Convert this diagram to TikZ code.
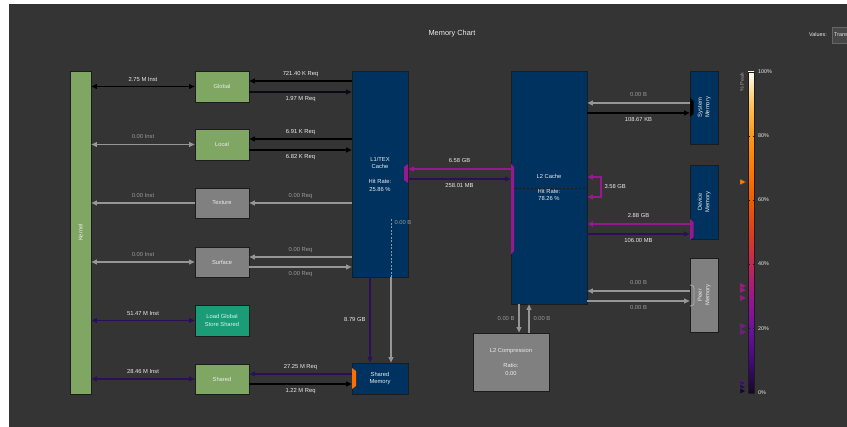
\documentclass[tikz,border=0pt]{standalone}
\usepackage{fontspec}
\setmainfont{Liberation Sans}
\usetikzlibrary{arrows.meta,calc}
\definecolor{bg}{RGB}{52,52,52}
\definecolor{kgreen}{RGB}{127,166,98}
\definecolor{navy}{RGB}{0,50,95}
\definecolor{gbox}{RGB}{128,128,128}
\definecolor{teal}{RGB}{26,156,118}
\definecolor{mag}{RGB}{150,25,145}
\definecolor{dpur}{RGB}{45,15,88}
\definecolor{nblk}{RGB}{12,8,22}
\definecolor{gline}{RGB}{150,150,150}
\definecolor{gtxt}{RGB}{155,155,155}
\definecolor{txt}{RGB}{236,236,236}
\definecolor{boxline}{RGB}{28,28,28}
\definecolor{orng}{RGB}{255,110,0}
\definecolor{cb0}{RGB}{22,6,42}
\definecolor{cb1}{RGB}{65,10,120}
\definecolor{cb2}{RGB}{110,16,160}
\definecolor{cb3}{RGB}{158,22,140}
\definecolor{cb4}{RGB}{195,38,85}
\definecolor{cb5}{RGB}{222,62,30}
\definecolor{cb6}{RGB}{240,92,0}
\definecolor{cb7}{RGB}{255,122,0}
\definecolor{cb8}{RGB}{255,152,20}
\definecolor{cb9}{RGB}{255,195,90}
\definecolor{cb10}{RGB}{255,252,242}
\newcommand\labfont{\fontsize{5.8}{7.5}\selectfont}
\newcommand\smfont{\fontsize{5.4}{7}\selectfont}
\tikzset{
  box/.style={draw=boxline, line width=0.8pt, inner sep=0pt, text=txt, font=\labfont, align=center},
  lab/.style={text=txt, font=\labfont, inner sep=0pt},
  glab/.style={text=gtxt, font=\labfont, inner sep=0pt},
  tip/.style={-{Triangle[length=5.5pt,width=5pt]}},
  dtip/.style={{Triangle[length=5.5pt,width=5pt]}-{Triangle[length=5.5pt,width=5pt]}},
  con/.style={line width=1.1pt, tip},
  dcon/.style={line width=1.1pt, dtip},
}
\begin{document}
\begin{tikzpicture}[x=1pt,y=-1pt]
\useasboundingbox (0,0) rectangle (847,427);
\fill[white] (0,0) rectangle (847,427);
\fill[bg] (9,4) rectangle (847,427);

% header
\node[lab, font=\fontsize{7.4}{9}\selectfont] (title) at (452,34) {Memory Chart};
\node[lab, font=\smfont, anchor=east] (values) at (827,35) {Values:};
\node[draw=black!60, fill=black!72, minimum width=22, minimum height=16, anchor=west, inner sep=0pt, text=txt, font=\smfont, text width=18, align=left] (valbox) at (832,35) {Trans};

% boxes
\node[box, fill=kgreen, minimum width=21, minimum height=323] (kernel) at (80.5,232.5) {\rotatebox{90}{Kernel}};
\node[box, fill=kgreen, minimum width=54, minimum height=31] (global) at (222,86.5) {Global};
\node[box, fill=kgreen, minimum width=54, minimum height=31] (local) at (222,144.5) {Local};
\node[box, fill=gbox, minimum width=54, minimum height=30] (texture) at (222,203) {Texture};
\node[box, fill=gbox, minimum width=54, minimum height=30] (surface) at (222,262) {Surface};
\node[box, fill=teal, minimum width=54, minimum height=31] (lgss) at (222,320.5) {Load Global\\Store Shared};
\node[box, fill=kgreen, minimum width=54, minimum height=30] (shared) at (222,379) {Shared};
\node[box, fill=navy, minimum width=56, minimum height=206] (l1) at (380,174) {L1/TEX\\Cache\\[7.5pt]Hit Rate:\\25.86 \%};
\node[box, fill=navy, minimum width=56, minimum height=31] (shmem) at (380,378.5) {Shared\\Memory};
\node[box, fill=navy, minimum width=76, minimum height=233] (l2) at (549,187.5) {L2 Cache\\[7.5pt]Hit Rate:\\78.26 \%};
\node[box, fill=gbox, minimum width=76, minimum height=58] (l2c) at (511,362) {L2 Compression\\[7.5pt]Ratio:\\0.00};
\node[box, fill=navy, minimum width=28, minimum height=73] (sysmem) at (704,107.5) {\rotatebox{90}{\begin{tabular}{@{}c@{}}System\\Memory\end{tabular}}};
\node[box, fill=navy, minimum width=28, minimum height=74] (devmem) at (704,202) {\rotatebox{90}{\begin{tabular}{@{}c@{}}Device\\Memory\end{tabular}}};
\node[box, fill=gbox, minimum width=28, minimum height=74] (peer) at (704,295) {\rotatebox{90}{\begin{tabular}{@{}c@{}}Peer\\Memory\end{tabular}}};

% dashed line in L2
\draw[boxline, line width=0.8pt, dash pattern=on 2.5pt off 1.5pt] (l2.west |- 0,188) -- (l2.east |- 0,188);

% ports
\fill[mag] (408,164) -- (404,167) -- (404,180) -- (408,183) -- cycle;
\fill[mag] (511,164) -- (514,167) -- (514,251) -- (511,254) -- cycle;
\fill[black] (690,98) -- (693.5,101) -- (693.5,114) -- (690,117) -- cycle;
\fill[mag] (690,219) -- (693.5,222) -- (693.5,237) -- (690,240) -- cycle;
\fill[orng] (352,368) -- (356,371) -- (356,386) -- (352,389) -- cycle;
\draw[gline!80!white, line width=0.8pt] (690,285) .. controls (694,286) .. (694,289) -- (694,302) .. controls (694,305) .. (690,306);

% Kernel connectors
\draw[dcon, black] (kernel.east |- global.west) -- (global.west) node[lab, midway, yshift=7] (t1) {2.75 M Inst};
\draw[dcon, gline] (kernel.east |- local.west) -- (local.west) node[glab, midway, yshift=7.5] (t2) {0.00 Inst};
\draw[con, gline] (texture.west) -- (kernel.east |- texture.west) node[glab, midway, yshift=7] (t3) {0.00 Inst};
\draw[dcon, gline] (kernel.east |- surface.west) -- (surface.west) node[glab, midway, yshift=7] (t4) {0.00 Inst};
\draw[dcon, dpur] (kernel.east |- lgss.west) -- (lgss.west) node[lab, midway, yshift=7] (t5) {51.47 M Inst};
\draw[dcon, dpur] (kernel.east |- shared.west) -- (shared.west) node[lab, midway, yshift=7] (t6) {28.46 M Inst};

% L1 <-> units
\draw[con, black] (l1.west |- 0,81) -- (global.east |- 0,81) node[lab, midway, yshift=7] (t7) {721.40 K Req};
\draw[con, nblk] (global.east |- 0,92) -- (l1.west |- 0,92) node[lab, midway, yshift=-7] (t8) {1.97 M Req};
\draw[con, black] (l1.west |- 0,139) -- (local.east |- 0,139) node[lab, midway, yshift=7] (t9) {6.91 K Req};
\draw[con, black] (local.east |- 0,150) -- (l1.west |- 0,150) node[lab, midway, yshift=-7] (t10) {6.82 K Req};
\draw[con, gline] (l1.west |- texture.east) -- (texture.east) node[glab, midway, yshift=7] (t11) {0.00 Req};
\draw[con, gline] (l1.west |- 0,257) -- (surface.east |- 0,257) node[glab, midway, yshift=7] (t12) {0.00 Req};
\draw[con, gline] (surface.east |- 0,267) -- (l1.west |- 0,267) node[glab, midway, yshift=-7] (t13) {0.00 Req};
\draw[con, dpur] (shmem.west |- 0,374) -- (shared.east |- 0,374) node[lab, midway, yshift=7] (t14) {27.25 M Req};
\draw[con, black] (shared.east |- 0,384) -- (shmem.west |- 0,384) node[lab, midway, yshift=-7] (t15) {1.22 M Req};

% L1 -> shared memory
\draw[con, dpur] (l1.south -| 370,0) -- (shmem.north -| 370,0) node[lab, midway, anchor=east, xshift=-4] (t16) {8.79 GB};
\draw[gline, line width=1pt, dash pattern=on 2pt off 1.5pt] (l1.south -| 391,0) -- (391,218) node[glab, anchor=west, xshift=3, yshift=-5] (t17) {0.00 B};
\draw[con, gline] (l1.south -| 391,0) -- (shmem.north -| 391,0);

% L1 <-> L2
\draw[con, mag] (l2.west |- 0,169) -- (l1.east |- 0,169) node[lab, midway, yshift=8] (t18) {6.58 GB};
\draw[con, dpur] (l1.east |- 0,179) -- (l2.west |- 0,179) node[lab, midway, yshift=-7] (t19) {258.01 MB};

% L2 self loop
\draw[line width=1.1pt, mag, dtip] (l2.east |- 0,177) -- (601,177) -- (601,197) node[lab, midway, anchor=west, xshift=3] (t20) {3.58 GB} -- (l2.east |- 0,197);

% L2 <-> memories
\draw[con, gline] (sysmem.west |- 0,103) -- (l2.east |- 0,103) node[glab, midway, yshift=8] (t21) {0.00 B};
\draw[con, black] (l2.east |- 0,113) -- (sysmem.west |- 0,113) node[lab, midway, yshift=-7] (t22) {108.67 KB};
\draw[con, mag] (devmem.west |- 0,224) -- (l2.east |- 0,224) node[lab, midway, yshift=8] (t23) {2.88 GB};
\draw[con, dpur] (l2.east |- 0,234) -- (devmem.west |- 0,234) node[lab, midway, yshift=-7] (t24) {106.00 MB};
\draw[con, gline] (peer.west |- 0,291) -- (l2.east |- 0,291) node[glab, midway, yshift=8] (t25) {0.00 B};
\draw[con, gline] (l2.east |- 0,301) -- (peer.west |- 0,301) node[glab, midway, yshift=-7] (t26) {0.00 B};

% L2 <-> compression
\draw[con, gline] (l2.south -| 519,0) -- (l2c.north -| 519,0) node[glab, midway, anchor=east, xshift=-4] (t27) {0.00 B};
\draw[con, gline] (l2c.north -| 529,0) -- (l2.south -| 529,0) node[glab, midway, anchor=west, xshift=4] (t28) {0.00 B};

% colour bar
\foreach \i in {0,...,9} {
  \pgfmathtruncatemacro\j{\i+1}
  \shade[bottom color=cb\i, top color=cb\j] (748,{393-32.1*\i+0.3}) rectangle (754,{393-32.1*\j});
}
\draw[boxline, line width=0.6pt] (748,72) rectangle (754,393);
\foreach \p in {1,2,3,4} {
  \draw[boxline, line width=0.6pt] (748,{393-64.2*\p}) -- (749.5,{393-64.2*\p});
  \draw[boxline, line width=0.6pt] (752.5,{393-64.2*\p}) -- (754,{393-64.2*\p});
}
\node[lab, font=\smfont, anchor=west] (p100) at (758,72) {100\%};
\node[lab, font=\smfont, anchor=west] (p80) at (758,136) {80\%};
\node[lab, font=\smfont, anchor=west] (p60) at (758,200) {60\%};
\node[lab, font=\smfont, anchor=west] (p40) at (758,264) {40\%};
\node[lab, font=\smfont, anchor=west] (p20) at (758,329) {20\%};
\node[lab, font=\smfont, anchor=west] (p0) at (758,393) {0\%};
\node[glab, font=\smfont, rotate=90] (peak) at (742,82) {\% Peak};
\foreach \y/\c in {182/cb7, 286/cb3!80!cb4, 290/cb3!80!cb4, 298/cb3, 326/cb2!60!cb3, 332/cb2!60!cb3, 383/cb1, 387/cb1!60!cb0, 391/cb0} {
  \filldraw[fill=\c, draw=black!75, line width=0.3pt] (740,{\y-3}) -- (746,\y) -- (740,{\y+3}) -- cycle;
}
\end{tikzpicture}
\end{document}
